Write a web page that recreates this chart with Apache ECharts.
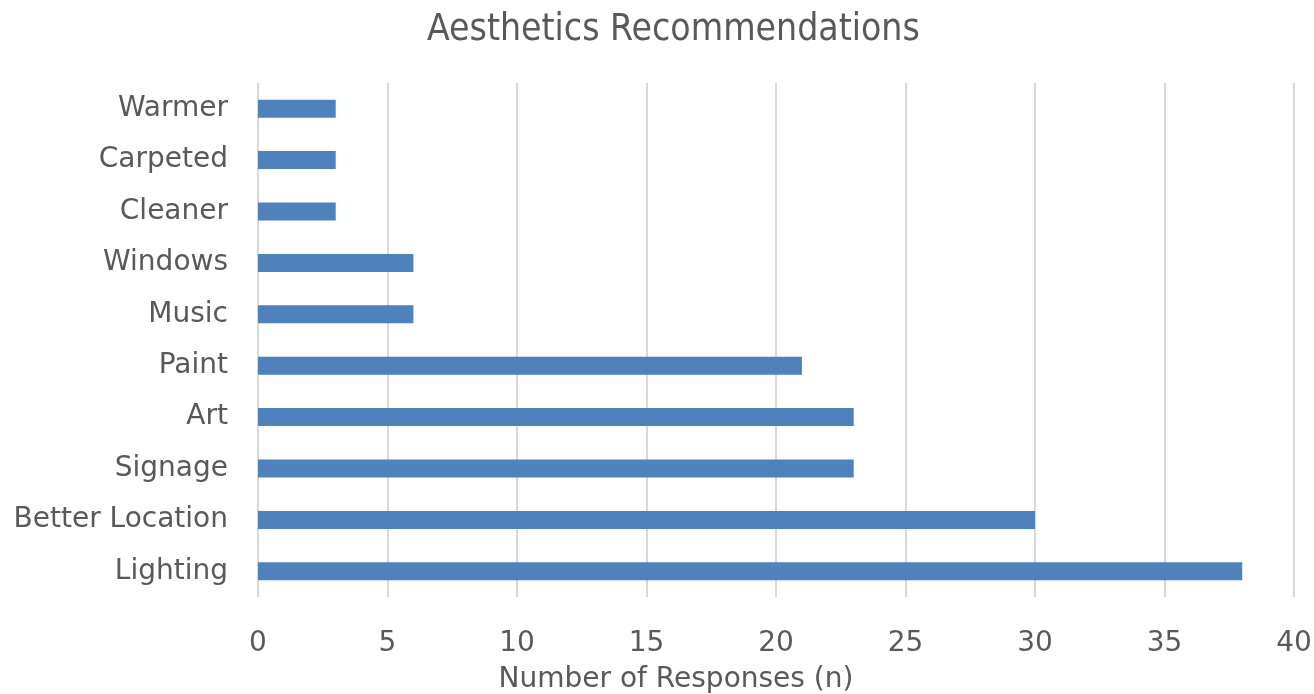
<!DOCTYPE html>
<html><head><meta charset="utf-8">
<script src="https://cdn.jsdelivr.net/npm/echarts@6/dist/echarts.min.js"></script>
<style>html,body{margin:0;padding:0;background:#fff}#c{width:1314px;height:694px}</style>
</head><body><div id="c"></div>
<script>
const categories = ["Lighting","Better Location","Signage","Art","Paint","Music","Windows","Cleaner","Carpeted","Warmer"];
const values = [38,30,23,23,21,6,6,3,3,3];
const xTicks = {min:0,max:40,interval:5};
const title = "Aesthetics Recommendations";
const xName = "Number of Responses (n)";
const font = "DejaVu Sans";
const chart = echarts.init(document.getElementById('c'));
chart.setOption({
  animation:false,
  title:{text:title,left:422,top:7,textStyle:{fontFamily:"DejaVu Sans Condensed",fontSize:37,fontWeight:'normal',color:'#595959'}},
  grid:{left:258,right:20,top:83,bottom:97,containLabel:false,outerBoundsMode:'none'},
  xAxis:{type:'value',min:xTicks.min,max:xTicks.max,interval:xTicks.interval,
    name:xName,nameLocation:'middle',nameGap:69,
    nameTextStyle:{fontFamily:font,fontSize:28,color:'#595959',padding:[0,200,0,0]},
    axisLine:{show:false},axisTick:{show:false},
    axisLabel:{fontFamily:font,fontSize:28,color:'#595959',margin:33},
    splitLine:{show:true,lineStyle:{color:'#D9D9D9',width:2}}},
  yAxis:{type:'category',data:categories,
    axisLine:{show:false},axisTick:{show:false},
    axisLabel:{fontFamily:font,fontSize:28,color:'#595959',margin:30}},
  series:[{type:'bar',data:values,barWidth:18,itemStyle:{color:'#4F81BD'}}]
});
</script></body></html>
